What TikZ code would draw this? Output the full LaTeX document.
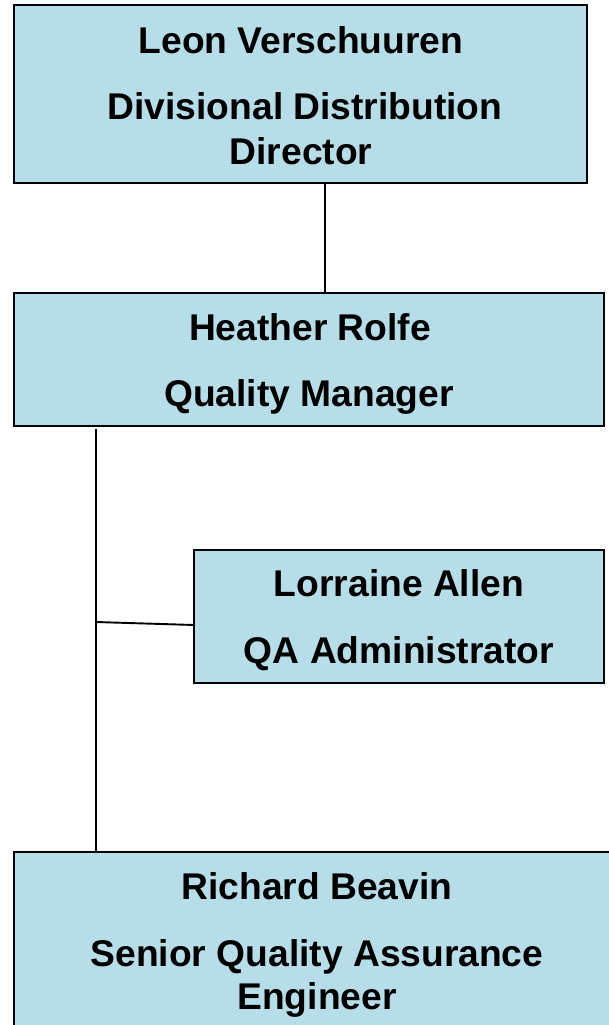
\documentclass[tikz,border=0pt]{standalone}
\usepackage{fontspec}
\setmainfont{Liberation Sans}
\definecolor{boxblue}{HTML}{B7DDE8}
\begin{document}
\begin{tikzpicture}[x=1pt,y=-1pt,
  orgbox/.style={draw=black,line width=2pt,fill=boxblue},
  lbl/.style={anchor=base,inner sep=0pt,font=\fontsize{37.2}{44}\selectfont\bfseries},
  conn/.style={draw=black,line width=1.9pt}]
\useasboundingbox (0,0) rectangle (609,1025);
\clip (0,0) rectangle (609,1025);
\fill[white] (0,0) rectangle (609,1025);
% boxes
\path[orgbox] (14,5) rectangle (587,183);
\path[orgbox] (14,293) rectangle (604,426);
\path[orgbox] (194,550) rectangle (604,683);
\path[orgbox] (14,852) rectangle (622,1040);
\coordinate (b1s) at (325,183);
\coordinate (b2n) at (325,293);
\coordinate (b2s) at (96,429);
\coordinate (b4n) at (96,852);
\coordinate (jn) at (96,622);
\coordinate (b3w) at (194,625);
% labels
\node[lbl] (l1a) at (301,53) {Leon Verschuuren};
\node[lbl] (l1b) at (305,119) {Divisional Distribution};
\node[lbl] (l1c) at (301,164) {Director};
\node[lbl] (l2a) at (310,340) {Heather Rolfe};
\node[lbl] (l2b) at (309,406) {Quality Manager};
\node[lbl] (l3a) at (399,596) {Lorraine Allen};
\node[lbl] (l3b) at (399,663) {QA Administrator};
\node[lbl] (l4a) at (317,899) {Richard Beavin};
\node[lbl] (l4b) at (317,966) {Senior Quality Assurance};
\node[lbl] (l4c) at (317,1009) {Engineer};
% connectors
\draw[conn] (b1s) -- (b2n);
\draw[conn] (b2s) -- (b4n);
\draw[conn] (jn) -- (b3w);
\end{tikzpicture}
\end{document}
